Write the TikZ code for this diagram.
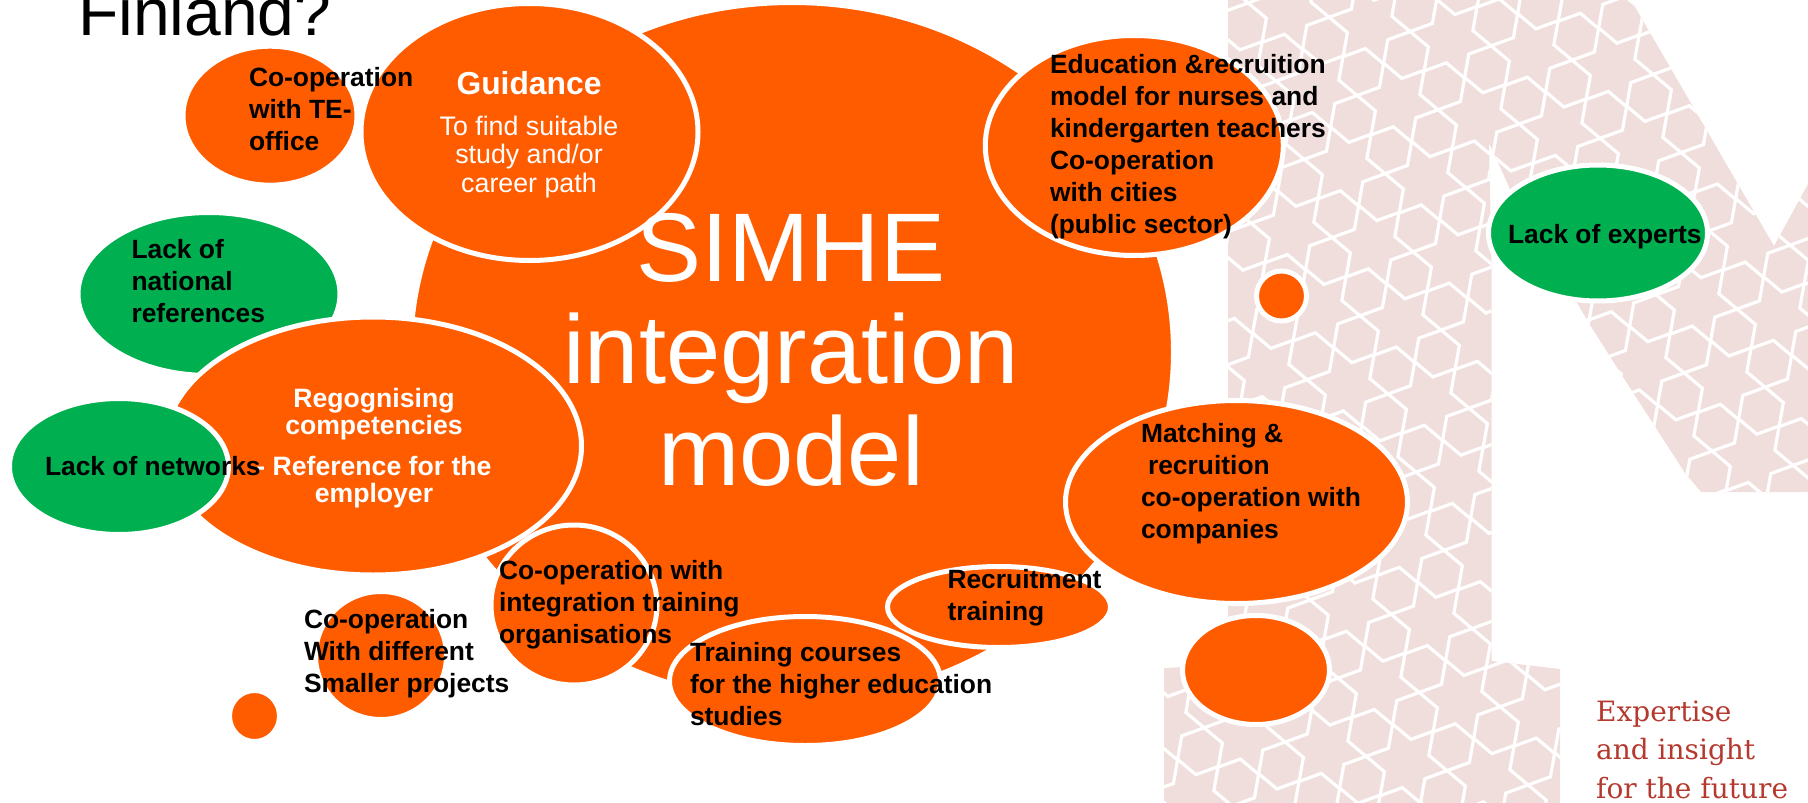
\documentclass[tikz,border=0pt]{standalone}
\usepackage{fontspec}
\setmainfont{Liberation Sans}
\newfontfamily\slabfont{DejaVu Serif}
\usetikzlibrary{shapes.geometric}
\definecolor{orng}{HTML}{FF5C00}
\definecolor{grn}{HTML}{00B050}
\definecolor{pinkbg}{HTML}{F0DEDC}
\definecolor{slabred}{HTML}{B5392E}
\newcommand\ltab[1]{\begin{tabular}[t]{@{}l@{}}#1\end{tabular}}
\newcommand\ctab[1]{\begin{tabular}[t]{@{}c@{}}#1\end{tabular}}
\tikzset{
  bubble/.style={ellipse,draw=white,line width=5pt,fill=orng,inner sep=0pt,outer sep=0pt},
  greenbub/.style={bubble,fill=grn},
  lbl/.style={inner sep=0pt,outer sep=0pt,anchor=base west,font=\fontsize{26.4}{32}\selectfont\bfseries,text=black},
  wlbl/.style={inner sep=0pt,outer sep=0pt,anchor=base,text=white},
}
\begin{document}
\begin{tikzpicture}[x=1pt,y=-1pt]
\useasboundingbox (0,0) rectangle (1808,803);
% background pattern
\begin{scope}
\clip (1228,0) -- (1631,0) -- (1735,179) -- (1774,246) -- (1808,184) -- (1808,492) -- (1701,492) -- (1685,473) -- (1623,377) -- (1590,325) -- (1510,189) -- (1489,143) -- (1491.7,270) -- (1491.7,661) -- (1517,664) -- (1560,669) -- (1560,803) -- (1164,803) -- (1164,668) -- (1183,667) -- (1228,665) -- cycle;
\fill[pinkbg] (1100,0) rectangle (1808,803);
\foreach \i in {-7,...,7}{
 \foreach \j in {-3,...,10}{
  \foreach \dx/\dy in {44.7/-16.3,36.5/30.6}{
   \pgfmathsetmacro\hx{1397.5+\i*81+\j*28+\dx}
   \pgfmathsetmacro\hy{102.6+\i*14.3+\j*78.2+\dy}
   \draw[white,line width=3.2pt,shift={(\hx,\hy)}] (22.36,-8.14) -- (18.23,15.30) -- (-4.13,23.44) -- (-22.36,8.14) -- (-18.23,-15.30) -- (4.13,-23.44) -- cycle;
  }
 }
}
\end{scope}
% bubbles
\node[bubble,minimum width=763pt,minimum height=699pt] (main) at (792,352) {};
\node[bubble,minimum width=174pt,minimum height=139pt] (te) at (270,115.7) {};
\node[bubble,minimum width=337pt,minimum height=257pt] (guid) at (529.5,132) {};
\node[bubble,minimum width=298pt,minimum height=220pt] (edu) at (1134.3,145.5) {};
\node[greenbub,minimum width=262pt,minimum height=163pt] (natl) at (209,294) {};
\node[bubble,minimum width=417pt,minimum height=258pt] (recog) at (373,446) {};
\node[greenbub,minimum width=219pt,minimum height=136pt] (netw) at (119,466.5) {};
\node[bubble,minimum width=131pt,minimum height=128pt] (diff) at (381,655.5) {};
\node[bubble,minimum width=50pt,minimum height=51pt] (dota) at (254.5,716) {};
\node[bubble,minimum width=166pt,minimum height=160pt] (integ) at (574,605) {};
\node[bubble,minimum width=223pt,minimum height=81pt] (recr) at (999,607) {};
\node[bubble,minimum width=271pt,minimum height=129pt] (train) at (805,681) {};
\node[bubble,minimum width=342pt,minimum height=203pt] (match) at (1236.5,502) {};
\node[bubble,minimum width=50pt,minimum height=50pt] (dotb) at (1281.5,296) {};
\node[bubble,minimum width=147pt,minimum height=109pt] (blob) at (1256,670) {};
\node[greenbub,minimum width=219pt,minimum height=136pt] (expt) at (1598,233) {};
% texts
\node[inner sep=0pt,anchor=base west,font=\fontsize{66}{70}\selectfont] (fin) at (78,35) {Finland?};
\node[wlbl,font=\fontsize{97.5}{102}\selectfont] (mainT) at (791,281) {\ctab{SIMHE\\integration\\model}};
\node[wlbl,font=\fontsize{31.8}{36}\selectfont\bfseries] (guidT) at (529,94) {Guidance};
\node[wlbl,font=\fontsize{26.8}{28.5}\selectfont] (guidS) at (529,135) {\ctab{To find suitable\\study and/or\\career path}};
\node[wlbl,font=\fontsize{26.6}{26}\selectfont\bfseries] (recogT) at (374,407) {\ctab{Regognising\\competencies\\[14pt]- Reference for the\\employer}};
\node[lbl] (teT) at (249,86) {\ltab{Co-operation\\with TE-\\office}};
\node[lbl] (natlT) at (131.5,258) {\ltab{Lack of\\national\\references}};
\node[lbl] (netwT) at (45,475) {Lack of networks};
\node[lbl] (diffT) at (304,628) {\ltab{Co-operation\\With different\\Smaller projects}};
\node[lbl] (integT) at (499,579) {\ltab{Co-operation with\\integration training\\organisations}};
\node[lbl] (trainT) at (690,661) {\ltab{Training courses\\for the higher education\\studies}};
\node[lbl] (recrT) at (947.5,588) {\ltab{Recruitment\\training}};
\node[lbl] (eduT) at (1050,73.3) {\ltab{Education \&recruition\\model for nurses and\\kindergarten teachers\\Co-operation\\with cities\\(public sector)}};
\node[lbl] (matchT) at (1141,442.5) {\ltab{Matching \&\\\hspace*{7pt}recruition\\co-operation with\\companies}};
\node[lbl] (exptT) at (1508,243) {Lack of experts};
\node[inner sep=0pt,anchor=base west,text=slabred,font=\fontsize{28}{38.3}\selectfont\slabfont] (tag) at (1596,721.5) {\ltab{Expertise\\and insight\\for the future}};
\end{tikzpicture}
\end{document}
